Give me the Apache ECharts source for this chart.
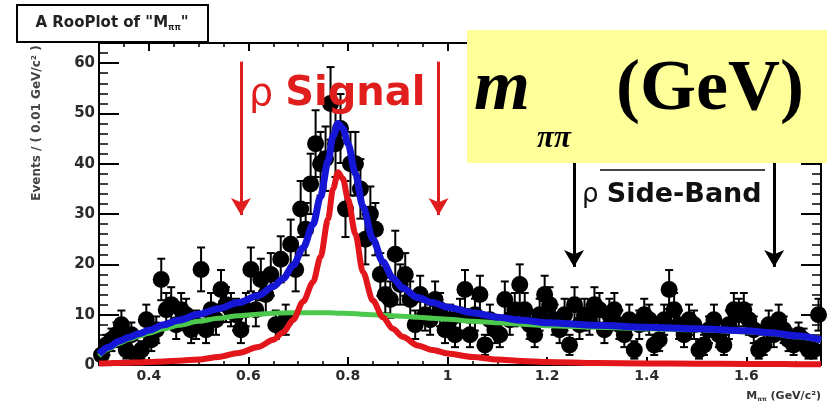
<!DOCTYPE html>
<html>
<head>
<meta charset="utf-8">
<script src="https://cdn.jsdelivr.net/npm/echarts@6/dist/echarts.min.js"></script>
<style>
  html, body { margin: 0; padding: 0; background: #fff; }
  #chart { width: 831px; height: 405px; }
</style>
</head>
<body>
<div id="chart"></div>
<script>
// Binning of the M(pi pi) histogram: 0.01 GeV/c^2 bins from 0.30 to 1.75
const binLow = 0.30;
const binWidth = 0.01;

// Events per bin
const counts = [
  2, 4, 5, 6, 8, 3, 6, 2, 3, 9,
  5, 7, 17, 11, 12, 8, 11, 10, 7, 8,
  19, 7, 11, 9, 15, 12, 11, 10, 7, 11,
  19, 11, 17, 14, 18, 8, 21, 9, 24, 19,
  31, 27, 36, 44, 40, 41, 52, 44, 47, 31,
  40, 40, 35, 25, 30, 27, 18, 14, 13, 22,
  16, 18, 13, 8, 14, 10, 9, 13, 11, 7,
  9, 6, 10, 15, 6, 10, 14, 4, 9, 7,
  6, 13, 9, 11, 16, 11, 8, 6, 10, 14,
  12, 9, 7, 10, 4, 12, 8, 10, 9, 12,
  11, 7, 10, 11, 8, 6, 9, 3, 8, 10,
  9, 4, 5, 9, 15, 11, 8, 6, 9, 8,
  3, 4, 7, 9, 6, 4, 8, 11, 10, 11,
  9, 7, 3, 4, 8, 6, 9, 7, 5, 4,
  6, 5, 3, 3, 10
];

// Fit curves sampled along the mass axis
const curveX = [0.30, 0.32, 0.34, 0.36, 0.38, 0.40, 0.43, 0.46, 0.50, 0.54, 0.58, 0.62, 0.65, 0.67,
  0.69, 0.71, 0.73, 0.745, 0.76, 0.77, 0.78, 0.79, 0.80, 0.815, 0.83, 0.85, 0.87, 0.89, 0.91,
  0.94, 0.97, 1.00, 1.05, 1.10, 1.15, 1.20, 1.30, 1.40, 1.50, 1.60, 1.65, 1.70, 1.75];
const signalY = [0.3, 0.35, 0.4, 0.45, 0.5, 0.6, 0.7, 0.85, 1.1, 1.6, 2.4, 3.6, 5.0, 6.5,
  9.0, 12.6, 16.5, 21.5, 29.0, 35.0, 38.3, 37.0, 33.0, 26.0, 18.5, 12.8, 9.5, 7.2, 5.6,
  3.9, 3.0, 2.3, 1.6, 1.1, 0.8, 0.6, 0.4, 0.3, 0.25, 0.2, 0.2, 0.15, 0.15];
const backgroundY = [1.8, 3.2, 4.3, 5.1, 5.7, 6.3, 7.2, 7.9, 8.7, 9.3, 9.8, 10.1, 10.3, 10.35,
  10.4, 10.4, 10.4, 10.4, 10.4, 10.35, 10.3, 10.3, 10.25, 10.2, 10.1, 10.0, 9.9, 9.8, 9.7,
  9.5, 9.3, 9.1, 8.7, 8.4, 8.1, 7.8, 7.5, 7.2, 7.0, 6.6, 6.2, 5.6, 4.8];
const totalY = [2.2, 3.6, 4.7, 5.5, 6.2, 6.9, 8.0, 8.9, 10.1, 11.2, 12.4, 13.8, 15.6, 17.2,
  19.8, 23.3, 28.0, 33.5, 40.5, 45.5, 48.0, 47.0, 44.0, 38.0, 31.5, 25.0, 20.5, 17.3, 15.3,
  13.4, 12.4, 11.5, 10.4, 9.5, 8.9, 8.4, 7.9, 7.5, 7.2, 6.8, 6.4, 5.8, 5.0];

// Axis ticks
const xTickValues = [0.4, 0.6, 0.8, 1, 1.2, 1.4, 1.6];
const xMinorTickValues = [0.3, 0.35, 0.4, 0.45, 0.5, 0.55, 0.6, 0.65, 0.7, 0.75, 0.8, 0.85, 0.9, 0.95,
  1, 1.05, 1.1, 1.15, 1.2, 1.25, 1.3, 1.35, 1.4, 1.45, 1.5, 1.55, 1.6, 1.65, 1.7, 1.75];
const yTickValues = [0, 10, 20, 30, 40, 50, 60];

// Mass windows marked with arrows
const signalWindow = [0.585, 0.982];
const sideBandWindow = [1.254, 1.656];

const points = counts.map((n, i) => [+(binLow + (i + 0.5) * binWidth).toFixed(3), n]);
const toPairs = ys => curveX.map((x, i) => [x, ys[i]]);

const chart = echarts.init(document.getElementById('chart'), null, { renderer: 'canvas' });

const labelFont = { fontFamily: 'DejaVu Sans', fontWeight: 'bold', color: '#2b2b2b' };
const frameLine = { show: true, lineStyle: { color: '#000', width: 2 } };

function xAxisDef(position, ticks, len, labels) {
  return {
    type: 'value', min: 0.3, max: 1.75, position: position,
    axisLine: labels === null ? { show: false } : frameLine,
    axisTick: { show: true, inside: true, length: len, customValues: ticks,
      lineStyle: { color: '#000', width: len > 5 ? 2 : 1.5 } },
    axisLabel: labels ? Object.assign({ show: true, customValues: labels, fontSize: 14, margin: 4 }, labelFont)
                      : { show: false },
    splitLine: { show: false }
  };
}

function yAxisDef(position, withLabels) {
  return {
    type: 'value', min: 0, max: 64, interval: 10, position: position,
    axisLine: frameLine,
    axisTick: { show: true, inside: true, length: 20, lineStyle: { color: '#000', width: 2 } },
    minorTick: { show: true, splitNumber: 5, length: 9, lineStyle: { color: '#000', width: 1.5 } },
    axisLabel: withLabels
      ? Object.assign({ show: true, customValues: yTickValues, fontSize: 15, margin: 4 }, labelFont)
      : { show: false },
    splitLine: { show: false }
  };
}

function arrow(x, yTop, yTip, color) {
  return [
    { coord: [x, yTop], lineStyle: { color: color, width: 3, type: 'solid' }, itemStyle: { color: color } },
    { coord: [x, yTip], itemStyle: { color: color } }
  ];
}

const option = {
  animation: false,
  backgroundColor: '#fff',
  grid: { left: 99, right: 10, top: 43, bottom: 40 },
  xAxis: [
    xAxisDef('bottom', xTickValues, 8, xTickValues),
    xAxisDef('bottom', xMinorTickValues, 4, null),
    xAxisDef('top', xTickValues, 8, false),
    xAxisDef('top', xMinorTickValues, 4, null)
  ],
  yAxis: [yAxisDef('left', true), yAxisDef('right', false)],
  series: [
    {
      name: 'errors', type: 'custom', xAxisIndex: 0, yAxisIndex: 0, z: 2, clip: true,
      data: points,
      renderItem: function (params, api) {
        const x = api.value(0), n = api.value(1);
        const e = Math.sqrt(n);
        const top = api.coord([x, n + e]);
        const bot = api.coord([x, Math.max(n - e, 0)]);
        const cap = 4;
        const st = { stroke: '#000', lineWidth: 2 };
        return {
          type: 'group',
          children: [
            { type: 'line', shape: { x1: top[0], y1: top[1], x2: bot[0], y2: bot[1] }, style: st },
            { type: 'line', shape: { x1: top[0] - cap, y1: top[1], x2: top[0] + cap, y2: top[1] }, style: st },
            { type: 'line', shape: { x1: bot[0] - cap, y1: bot[1], x2: bot[0] + cap, y2: bot[1] }, style: st }
          ]
        };
      }
    },
    {
      name: 'data', type: 'scatter', z: 3, clip: true,
      symbol: 'circle', symbolSize: 17,
      itemStyle: { color: '#000', opacity: 1 },
      data: points
    },
    {
      name: 'background', type: 'line', z: 4, smooth: 0.3, smoothMonotone: 'x', showSymbol: false,
      lineStyle: { color: '#4cc84c', width: 5 },
      data: toPairs(backgroundY),
      markLine: {
        silent: true, symbol: ['none', 'arrow'], symbolSize: [15, 17],
        label: { show: false },
        data: [
          arrow(signalWindow[0], 60.3, 29.8, '#e01e1e'),
          arrow(signalWindow[1], 60.3, 29.8, '#e01e1e'),
          arrow(sideBandWindow[0], 60.3, 19.5, '#000'),
          arrow(sideBandWindow[1], 60.3, 19.5, '#000')
        ]
      }
    },
    {
      name: 'signal', type: 'line', z: 5, smooth: 0.3, smoothMonotone: 'x', showSymbol: false,
      lineStyle: { color: '#e2161b', width: 6 },
      data: toPairs(signalY)
    },
    {
      name: 'total', type: 'line', z: 6, smooth: 0.3, smoothMonotone: 'x', showSymbol: false,
      lineStyle: { color: '#1616d6', width: 7 },
      data: toPairs(totalY)
    }
  ],
  graphic: [
    // Plot title pave
    {
      type: 'rect', z: 50, shape: { x: 17, y: 5, width: 191, height: 37 },
      style: { fill: '#fff', stroke: '#000', lineWidth: 2 }
    },
    {
      type: 'text', z: 51, x: 112, y: 23,
      style: {
        text: '{t|A RooPlot of "M}{s|ππ}{t|"}',
        align: 'center', verticalAlign: 'middle',
        rich: {
          t: { fontFamily: 'DejaVu Sans', fontWeight: 'bold', fontSize: 15, fill: '#222' },
          s: { fontFamily: 'DejaVu Sans', fontWeight: 'bold', fontSize: 8, fill: '#222', padding: [10, 0, 0, 0] }
        }
      }
    },
    // Signal window caption
    {
      type: 'text', z: 40, x: 249, y: 95,
      style: {
        text: '{r|ρ }{b|Signal}',
        align: 'left', verticalAlign: 'middle',
        rich: {
          r: { fontFamily: 'DejaVu Sans', fontSize: 38, fill: '#e01e1e' },
          b: { fontFamily: 'DejaVu Sans', fontWeight: 'bold', fontSize: 40, fill: '#e01e1e' }
        }
      }
    },
    // Side-band caption
    {
      type: 'text', z: 40, x: 582, y: 195,
      style: {
        text: '{r|ρ }{b|Side-Band}',
        align: 'left', verticalAlign: 'middle',
        rich: {
          r: { fontFamily: 'DejaVu Sans', fontSize: 26, fill: '#111' },
          b: { fontFamily: 'DejaVu Sans', fontWeight: 'bold', fontSize: 27, fill: '#111' }
        }
      }
    },
    {
      type: 'line', z: 40, shape: { x1: 600, y1: 170, x2: 765, y2: 170 },
      style: { stroke: '#444', lineWidth: 2 }
    },
    // Mass label panel
    {
      type: 'rect', z: 60, shape: { x: 467, y: 30, width: 360, height: 133 },
      style: { fill: '#ffff99' }
    },
    {
      type: 'text', z: 61, x: 474, y: 90,
      style: { text: 'm', fontFamily: 'Liberation Serif', fontStyle: 'italic', fontWeight: 'bold',
        fontSize: 72, fill: '#000', align: 'left', verticalAlign: 'middle' }
    },
    {
      type: 'text', z: 61, x: 537, y: 139,
      style: { text: 'ππ', fontFamily: 'Liberation Serif', fontStyle: 'italic', fontWeight: 'bold',
        fontSize: 31, fill: '#000', align: 'left', verticalAlign: 'middle' }
    },
    {
      type: 'text', z: 61, x: 616, y: 90,
      style: { text: '(GeV)', fontFamily: 'Liberation Serif', fontWeight: 'bold',
        fontSize: 72, fill: '#000', align: 'left', verticalAlign: 'middle' }
    },
    // Axis titles
    {
      type: 'text', z: 40, x: 37, y: 123, rotation: Math.PI / 2,
      style: { text: 'Events / ( 0.01 GeV/c² )', fontFamily: 'DejaVu Sans', fontWeight: 'bold',
        fontSize: 12, fill: '#444', align: 'center', verticalAlign: 'middle' }
    },
    {
      type: 'text', z: 40, x: 821, y: 396,
      style: {
        text: '{m|M}{s|ππ}{m| (GeV/c²)}',
        align: 'right', verticalAlign: 'middle',
        rich: {
          m: { fontFamily: 'DejaVu Sans', fontWeight: 'bold', fontSize: 11, fill: '#333' },
          s: { fontFamily: 'DejaVu Sans', fontWeight: 'bold', fontSize: 6, fill: '#333', padding: [7, 0, 0, 0] }
        }
      }
    }
  ]
};

chart.setOption(option);
</script>
</body>
</html>
